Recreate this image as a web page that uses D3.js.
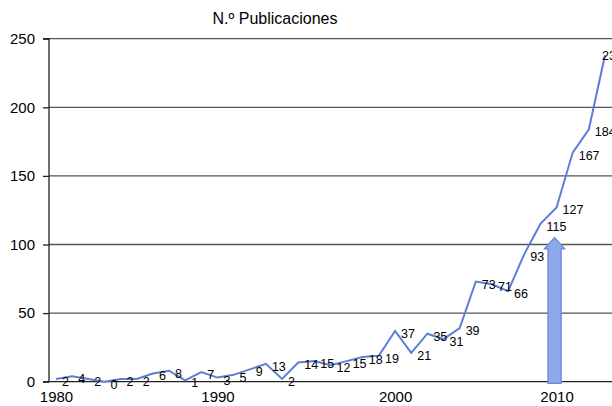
<!DOCTYPE html>
<html>
<head>
<meta charset="utf-8">
<script src="https://cdn.jsdelivr.net/npm/d3@7"></script>
<style>
  html, body { margin: 0; padding: 0; background: #fff; }
  svg { display: block; font-family: "Liberation Sans", Arial, Helvetica, sans-serif; }
</style>
</head>
<body>
<svg id="chart" width="612" height="406"></svg>
<script>
// ---- data ----
const title = "N.º Publicaciones";
const values = [2, 4, 2, 0, 2, 2, 6, 8, 1, 7, 3, 5, 9, 13, 2, 14, 15, 12, 15, 18, 19, 37, 21, 35, 31, 39, 73, 71, 66, 93, 115, 127, 167, 184, 238];
const xTickLabels = ["1980", "1990", "2000", "2010"];
const xTickIndex = [0, 10, 21, 31];
const yTicks = [0, 50, 100, 150, 200, 250];
const arrowIndex = 31;
const arrowValue = 105;

// ---- layout ----
const svg = d3.select("#chart");
const W = 612, H = 406;
const plot = { left: 49, right: 612, top: 38.7, bottom: 381.7 };

const x = d3.scaleLinear().domain([0, values.length - 1]).range([56, 605]);
const y = d3.scaleLinear().domain([0, 250]).range([plot.bottom, plot.top]);

// title
svg.append("text")
  .attr("x", 275).attr("y", 24)
  .attr("text-anchor", "middle")
  .attr("font-size", 16)
  .attr("fill", "#000")
  .text(title);

// gridlines
svg.append("g").selectAll("line")
  .data(yTicks.filter(d => d > 0))
  .join("line")
  .attr("x1", plot.left).attr("x2", plot.right)
  .attr("y1", d => y(d)).attr("y2", d => y(d))
  .attr("stroke", "#555").attr("stroke-width", 1.3);

// y axis
const yAxis = d3.axisLeft(y).tickValues(yTicks).tickSize(6).tickPadding(8);
const gy = svg.append("g").attr("transform", `translate(${plot.left},0)`).call(yAxis);
gy.select(".domain").attr("stroke", "#222").attr("stroke-width", 1.3).attr("d", `M-6,${plot.top}H0V${plot.bottom}H-6`);
gy.selectAll(".tick line").attr("stroke", "#222").attr("stroke-width", 1.3);
gy.selectAll(".tick text").attr("font-size", 15).attr("fill", "#000").attr("font-family", "Liberation Sans, Arial, sans-serif");

// x axis
const xAxis = d3.axisBottom(x).tickValues(xTickIndex).tickSize(0).tickPadding(10)
  .tickFormat((d, i) => xTickLabels[i]);
const gx = svg.append("g").attr("transform", `translate(0,${plot.bottom})`).call(xAxis);
gx.select(".domain").remove();
gx.append("line").attr("x1", plot.left).attr("x2", plot.right).attr("y1", 0).attr("y2", 0)
  .attr("stroke", "#222").attr("stroke-width", 1.3);
gx.selectAll(".tick text").attr("font-size", 15).attr("fill", "#000").attr("font-family", "Liberation Sans, Arial, sans-serif");

// line
svg.append("path")
  .datum(values)
  .attr("fill", "none")
  .attr("stroke", "#5b7fd6")
  .attr("stroke-width", 2)
  .attr("stroke-linejoin", "miter")
  .attr("d", d3.line().x((d, i) => x(i)).y(d => y(d)));

// data labels (last one is pulled left onto its point, as in the reference)
const lastIdx = values.length - 1;
svg.append("g").selectAll("text")
  .data(values)
  .join("text")
  .attr("x", (d, i) => i === lastIdx ? x(i) - 3 : x(i) + 6)
  .attr("y", (d, i) => i === lastIdx ? y(d) + 5 : y(d) + 7)
  .attr("font-size", 12.5)
  .attr("fill", "#000")
  .text(d => d);

// arrow annotation
const ax = x(arrowIndex) - 2;
const shaftW = 13, headW = 20, headH = 11;
const tipY = y(arrowValue), baseY = plot.bottom + 1.5;
const arrowPath = d3.path();
arrowPath.moveTo(ax - shaftW / 2, baseY);
arrowPath.lineTo(ax - shaftW / 2, tipY + headH);
arrowPath.lineTo(ax - headW / 2, tipY + headH);
arrowPath.lineTo(ax, tipY);
arrowPath.lineTo(ax + headW / 2, tipY + headH);
arrowPath.lineTo(ax + shaftW / 2, tipY + headH);
arrowPath.lineTo(ax + shaftW / 2, baseY);
arrowPath.closePath();
svg.append("path")
  .attr("d", arrowPath.toString())
  .attr("fill", "#8eaaec")
  .attr("stroke", "#6f8fdc")
  .attr("stroke-width", 1.5);
</script>
</body>
</html>
